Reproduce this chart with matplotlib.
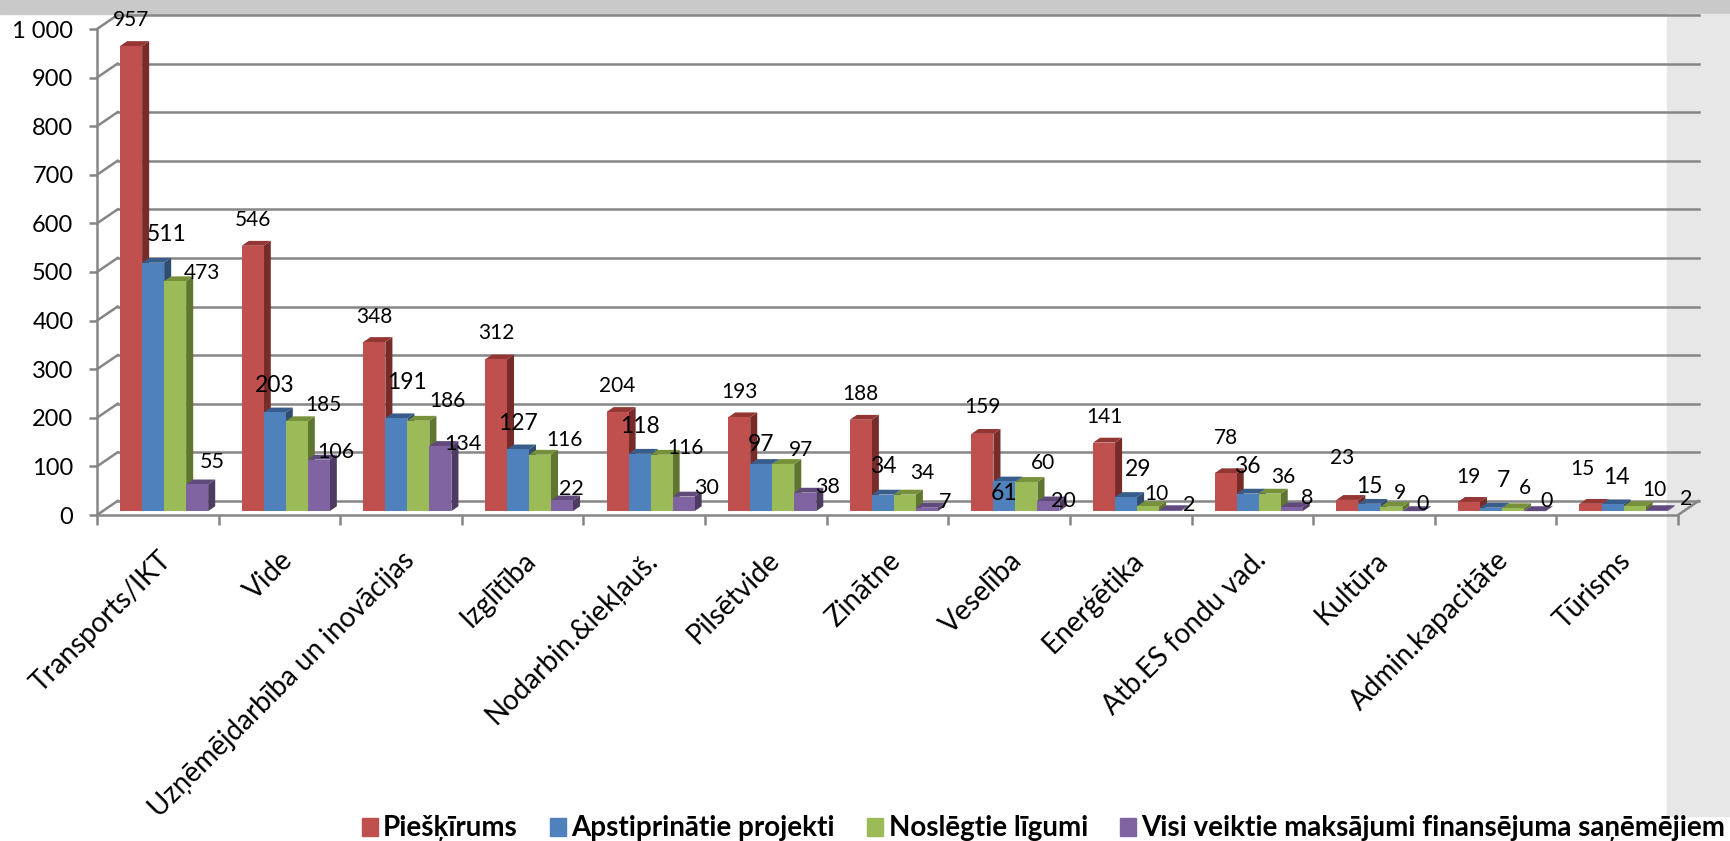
import matplotlib
matplotlib.use('Agg')
import matplotlib.pyplot as plt
from matplotlib.patches import Rectangle, Patch

plt.rcParams['font.family'] = ['Lato', 'Open Sans', 'DejaVu Sans']

categories = ['Transports/IKT', 'Vide', 'Uzņēmējdarbība un inovācijas', 'Izglītība',
              'Nodarbin.&iekļauš.', 'Pilsētvide', 'Zinātne', 'Veselība', 'Enerģētika',
              'Atb.ES fondu vad.', 'Kultūra', 'Admin.kapacitāte', 'Tūrisms']
pieskirums = [957, 546, 348, 312, 204, 193, 188, 159, 141, 78, 23, 19, 15]
projekti = [511, 203, 191, 127, 118, 97, 34, 61, 29, 36, 15, 7, 14]
ligumi = [473, 185, 186, 116, 116, 97, 34, 60, 10, 36, 9, 6, 10]
maksajumi = [55, 106, 134, 22, 30, 38, 7, 20, 2, 8, 0, 0, 2]
series_names = ['Piešķīrums', 'Apstiprinātie projekti', 'Noslēgtie līgumi',
                'Visi veiktie maksājumi finansējuma saņēmējiem']
yticks = [0, 100, 200, 300, 400, 500, 600, 700, 800, 900, 1000]
ytick_labels = ['0', '100', '200', '300', '400', '500', '600', '700', '800', '900', '1 000']

# face, side, top
colors = [('#C0504D', '#772C2A', '#943634'),
          ('#4F81BD', '#2F4D71', '#385D8A'),
          ('#9BBB59', '#5F7530', '#769139'),
          ('#8064A2', '#4D3B62', '#604A7B')]

# data label shift from the bar top centre, in pixels (excel placed these by hand)
red_shift = [(0, 26), (0, 26), (0, 25), (0, 26), (0, 26), (0, 25), (0, 26), (0, 27),
             (0, 26), (0, 35), (-5, 42), (0, 25), (-8, 35)]
blue_shift = [(14, 28), (0, 27), (11, 36), (0, 26), (0, 27), (0, 19), (0, 28), (0, -12),
              (12, 28), (0, 27), (0, 17), (12, 27), (4, 27)]
green_shift = [(27, 8), (27, 16), (29, 20), (24, 15), (24, 7), (18, 14), (17, 22), (17, 19),
               (8, 12), (14, 17), (9, 14), (12, 20), (20, 16)]
purple_shift = [(15, 22), (17, 8), (23, 2), (9, 11), (23, 9), (22, 6), (18, 6), (15, 0),
                (19, 5), (15, 9), (9, 7), (12, 10), (30, 11)]

W, H = 1730, 841
fig = plt.figure(figsize=(W / 100, H / 100), dpi=100)
fig.patches.append(Rectangle((0, 1 - 14 / H), 1, 14 / H, transform=fig.transFigure,
                             color='#C9C9C9', zorder=-5))
fig.patches.append(Rectangle((1667 / W, 1 - 816 / H), 63 / W, 802 / H, transform=fig.transFigure,
                             color='#E7E7E7', zorder=-5))

ax = fig.add_axes([97 / W, (H - 515) / H, 1581 / W, 486 / H])
ax.set_facecolor('none')
ax.set_xlim(0, 13)
ax.set_ylim(0, 1000)

grid = '#868686'
wall_x, wall_y = 0.17, 29
for v in yticks:
    ax.plot([wall_x, 13 + wall_x], [v + wall_y, v + wall_y], color=grid, lw=1.8, zorder=1, clip_on=False)
    ax.plot([0, wall_x], [v, v + wall_y], color=grid, lw=1.8, zorder=1, clip_on=False)
ax.plot([13, 13 + wall_x], [0, wall_y], color=grid, lw=1.8, zorder=1, clip_on=False)

for s in ['top', 'right']:
    ax.spines[s].set_visible(False)
for s in ['left', 'bottom']:
    ax.spines[s].set_color(grid)
    ax.spines[s].set_linewidth(1.8)

ax.set_yticks(yticks)
ax.set_yticklabels(ytick_labels, fontsize=17, color='black')
ax.tick_params(axis='y', length=6, width=1.8, color=grid, pad=11)
ax.set_xticks(range(14))
ax.set_xticklabels([])
ax.tick_params(axis='x', which='major', length=7, width=1.8, color=grid)
ax.set_xticks([i + 0.5 for i in range(13)], minor=True)
ax.set_xticklabels(categories, minor=True, rotation=45, ha='right', rotation_mode='anchor', fontsize=20)
ax.tick_params(axis='x', which='minor', length=0, pad=23)

bar_w = 0.181
first = 0.19
base = 8
depth_x, depth_y = 0.058, 10
all_series = [pieskirums, projekti, ligumi, maksajumi]
shifts = [red_shift, blue_shift, green_shift, purple_shift]
label_sizes = [15, 16.5, 15, 15.5]

for c in range(13):
    for k, vals in enumerate(all_series):
        x0 = c + first + k * bar_w
        x1 = x0 + bar_w
        top = vals[c] + base
        face, side, roof = colors[k]
        z = 3 + c * 4 + k
        ax.bar(x0, vals[c], bar_w, bottom=base, align='edge', color=face, zorder=z, clip_on=False)
        ax.fill([x1, x1 + depth_x, x1 + depth_x, x1], [base, base + depth_y, top + depth_y, top],
                color=side, lw=0, zorder=z - 0.5, clip_on=False)
        ax.fill([x0, x0 + depth_x, x1 + depth_x, x1], [top, top + depth_y, top + depth_y, top],
                color=roof, lw=0, zorder=z - 0.5, clip_on=False)

for k, vals in enumerate(all_series):
    for c, v in enumerate(vals):
        xc = c + first + (k + 0.5) * bar_w
        dx, dy = shifts[k][c]
        ax.annotate(str(v), (xc, v + base), xytext=(dx * 0.72, dy * 0.72), textcoords='offset points',
                    ha='center', va='center', fontsize=label_sizes[k], zorder=200, annotation_clip=False)

handles = [Patch(color=colors[k][0]) for k in range(4)]
fig.legend(handles, series_names, ncol=4, loc='lower right', bbox_to_anchor=(1731 / W, -6 / H),
           frameon=False, prop={'size': 20, 'weight': 'bold'},
           handlelength=0.58, handleheight=0.62, handletextpad=0.2, columnspacing=1.15,
           borderaxespad=0.1, borderpad=0.1)

fig.savefig('out.png', dpi=100)
